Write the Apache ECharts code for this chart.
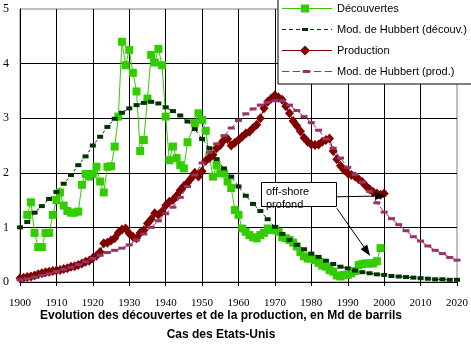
<!DOCTYPE html>
<html>
<head>
<meta charset="utf-8">
<script src="https://cdn.jsdelivr.net/npm/echarts@6/dist/echarts.min.js"></script>
<style>
html, body { margin: 0; padding: 0; background: #fff; }
#chart { width: 471px; height: 350px; }
</style>
</head>
<body>
<div id="chart"></div>
<script>
// US oil: yearly discoveries and production (billion barrels), with Hubbert models

const discoveryYears = [1902,1903,1904,1905,1906,1907,1908,1909,1910,1911,1912,1913,1914,1915,1916,1917,1918,1919,1920,
  1921,1922,1923,1924,1925,1926,1927,1928,1929,1930,1931,1932,1933,1934,1935,1936,1937,1938,1939,1940,
  1941,1942,1943,1944,1945,1946,1948,1949,1950,1951,1952,1953,1954,1955,1956,1957,1958,1959,1960,
  1961,1962,1963,1964,1965,1966,1967,1968,1969,1970,1971,1972,1973,1974,1975,1976,1977,1978,1979,1980,
  1981,1982,1983,1984,1985,1986,1987,1988,1989,1990,1991,1992,1993,1994,1995,1996,1997,1998,1999];
const discoveryValues = [1.23,1.46,0.90,0.64,0.64,0.90,0.90,1.23,1.50,1.64,1.40,1.30,1.27,1.27,1.29,1.78,1.98,1.93,1.98,
  2.11,1.84,1.64,2.11,2.12,2.48,3.03,4.40,3.97,4.25,3.83,3.49,2.40,2.60,3.36,4.16,4.02,4.27,3.97,3.03,
  2.23,2.48,2.27,2.14,2.08,2.56,2.91,3.09,2.97,2.77,2.30,1.93,2.14,1.99,1.99,1.84,1.72,1.32,1.23,
  0.98,0.92,0.86,0.82,0.80,0.86,0.90,0.98,0.95,0.95,0.92,0.82,0.80,0.77,0.72,0.65,0.55,0.47,0.43,0.43,
  0.40,0.35,0.30,0.28,0.22,0.19,0.12,0.10,0.13,0.13,0.16,0.20,0.31,0.33,0.34,0.34,0.34,0.38,0.62];

const modelYears = [1900,1902,1904,1906,1908,1910,1912,1914,1916,1918,1920,1922,1924,1926,1928,1930,1932,1934,1936,1938,
  1940,1942,1944,1946,1948,1950,1952,1954,1956,1958,1960,1962,1964,1966,1968,1970,1972,1974,1976,1978,
  1980,1982,1984,1986,1988,1990,1992,1994,1996,1998,2000,2002,2004,2006,2008,2010,2012,2014,2016,2018,2020];
const discoveryModelValues = [1.00,1.10,1.27,1.39,1.52,1.65,1.80,1.96,2.14,2.30,2.50,2.66,2.84,2.99,3.10,3.18,3.24,3.28,3.30,3.27,
  3.20,3.13,3.05,2.94,2.80,2.62,2.45,2.25,2.08,1.93,1.75,1.58,1.43,1.30,1.15,1.01,0.88,0.77,0.68,0.60,
  0.52,0.46,0.39,0.33,0.28,0.25,0.21,0.18,0.16,0.14,0.13,0.11,0.10,0.09,0.08,0.07,0.06,0.05,0.05,0.04,0.04];
const productionModelValues = [0.04,0.06,0.09,0.12,0.15,0.19,0.23,0.27,0.32,0.37,0.43,0.49,0.54,0.58,0.62,0.68,0.77,0.88,1.00,1.12,
  1.25,1.37,1.55,1.75,1.96,2.18,2.38,2.53,2.68,2.82,2.96,3.08,3.17,3.24,3.29,3.32,3.32,3.24,3.14,3.03,
  2.92,2.78,2.62,2.45,2.27,2.10,1.97,1.83,1.66,1.45,1.28,1.16,1.05,0.94,0.83,0.75,0.66,0.58,0.52,0.45,0.40];

const productionYears = [1900,1901,1902,1903,1904,1905,1906,1907,1908,1909,1910,1911,1912,1913,1914,1915,1916,1917,1918,1919,
  1920,1921,1922,1923,1924,1925,1926,1927,1928,1929,1930,1931,1932,1933,1934,1935,1936,1937,1938,1939,
  1940,1941,1942,1943,1944,1945,1946,1947,1948,1949,1950,1951,1952,1953,1954,1955,1956,1957,1958,1959,
  1960,1961,1962,1963,1964,1965,1966,1967,1968,1969,1970,1971,1972,1973,1974,1975,1976,1977,1978,1979,
  1980,1981,1982,1983,1984,1985,1986,1987,1988,1989,1990,1991,1992,1993,1994,1995,1996,1997,1998,1999,2000];
const productionValues = [0.07,0.08,0.09,0.10,0.12,0.14,0.16,0.18,0.19,0.20,0.21,0.22,0.24,0.25,0.28,0.29,0.31,0.34,0.37,0.39,
  0.44,0.48,0.55,0.71,0.72,0.76,0.80,0.90,0.96,0.98,0.89,0.83,0.80,0.90,0.95,1.07,1.15,1.26,1.23,1.29,
  1.40,1.47,1.50,1.58,1.68,1.76,1.82,1.90,2.00,1.93,2.03,2.22,2.27,2.33,2.45,2.51,2.60,2.62,2.50,2.55,
  2.60,2.66,2.72,2.75,2.82,2.88,3.00,3.18,3.30,3.36,3.42,3.38,3.34,3.22,3.09,2.95,2.86,2.76,2.64,2.57,
  2.52,2.51,2.52,2.57,2.60,2.63,2.40,2.25,2.13,2.05,1.99,1.96,1.93,1.88,1.83,1.76,1.70,1.65,1.62,1.60,1.62];

const seriesNames = ['Découvertes', 'Mod. de Hubbert (découv.)', 'Production', 'Mod. de Hubbert (prod.)'];
const xTicks = { min: 1900, max: 2020, step: 10 };
const yTicks = { min: 0, max: 5, step: 1 };
const titleLines = ['Evolution des découvertes et de la production, en Md de barrils', 'Cas des Etats-Unis'];
const noteText = ['off-shore', 'profond'];

const zip = (xs, ys) => xs.map((x, i) => [x, ys[i]]);

// Legend glyphs: a 50px-wide strip with the line pattern and the series marker at 23px
const ICON_W = 50;
function legendIcon(dash, gap, markerPath, midY) {
  let d = '';
  const y0 = midY - 0.5;
  if (!gap) {
    d += `M0,${y0}H${ICON_W}V${y0 + 1}H0Z`;
  } else {
    for (let x = 0; x < ICON_W; x += dash + gap) {
      const len = Math.min(dash, ICON_W - x);
      d += `M${x},${y0}h${len}v1h${-len}Z`;
    }
  }
  return 'path://' + d + markerPath;
}
const iconDiscovery = legendIcon(0, 0, 'M19,0H27V8H19Z', 4);
const iconDiscModel = legendIcon(4, 3, 'M20,0H26V3H20Z', 1.5);
const iconProduction = legendIcon(0, 0, 'M23,0L28,5L23,10L18,5Z', 5);
const iconProdModel = legendIcon(7, 3, 'M19.5,0H26.5V3H19.5Z', 1.5);

const SANS = '"Liberation Sans", Arial, sans-serif';
const SERIF = '"Liberation Serif", "Times New Roman", serif';

const chart = echarts.init(document.getElementById('chart'), null, { renderer: 'canvas' });

const option = {
  animation: false,
  backgroundColor: '#fff',
  grid: {
    left: 20, right: 14, top: 9, bottom: 68,
    show: true, borderColor: '#808080', borderWidth: 1, backgroundColor: 'transparent'
  },
  legend: {
    orient: 'vertical',
    left: 278, top: -3,
    padding: [6, 20, 7, 4],
    itemWidth: ICON_W, itemHeight: 14, itemGap: 10,
    backgroundColor: '#fff', borderColor: '#000', borderWidth: 1, borderRadius: 0,
    selectedMode: false,
    itemStyle: { borderWidth: 0 },
    textStyle: { fontFamily: SANS, fontSize: 11, color: '#000' },
    data: [
      { name: seriesNames[0], icon: iconDiscovery },
      { name: seriesNames[1], icon: iconDiscModel },
      { name: seriesNames[2], icon: iconProduction },
      { name: seriesNames[3], icon: iconProdModel }
    ]
  },
  xAxis: {
    type: 'value', min: xTicks.min, max: xTicks.max, interval: xTicks.step,
    axisLine: { show: true, onZero: false, lineStyle: { color: '#000', width: 1 } },
    axisTick: { show: true, length: 4, lineStyle: { color: '#000' } },
    axisLabel: { color: '#000', fontFamily: SERIF, fontSize: 11, margin: 16, formatter: v => String(v) },
    splitLine: { show: true, showMinLine: false, showMaxLine: false, lineStyle: { color: '#000', width: 1 } }
  },
  yAxis: {
    type: 'value', min: yTicks.min, max: yTicks.max, interval: yTicks.step,
    axisLine: { show: true, lineStyle: { color: '#000', width: 1 } },
    axisTick: { show: false },
    axisLabel: { color: '#000', fontFamily: SERIF, fontSize: 12, margin: 11 },
    splitLine: { show: true, showMinLine: false, showMaxLine: false, lineStyle: { color: '#000', width: 1 } }
  },
  series: [
    {
      name: seriesNames[0], type: 'line', data: zip(discoveryYears, discoveryValues),
      symbol: 'rect', symbolSize: 8,
      itemStyle: { color: '#33CC00' },
      lineStyle: { color: '#33CC00', width: 1 }
    },
    {
      name: seriesNames[1], type: 'line', data: zip(modelYears, discoveryModelValues),
      symbol: 'rect', symbolSize: [6, 4],
      itemStyle: { color: '#003300' },
      lineStyle: { color: '#003300', width: 1, type: [3, 3] }
    },
    {
      name: seriesNames[2], type: 'line', data: zip(productionYears, productionValues),
      symbol: 'diamond', symbolSize: [9, 10],
      itemStyle: { color: '#800000' },
      lineStyle: { color: '#800000', width: 1 },
      markLine: {
        silent: true,
        symbol: ['none', 'triangle'],
        symbolSize: [8, 11],
        label: { show: false },
        lineStyle: { color: '#000', width: 1, type: 'solid' },
        emphasis: { disabled: true },
        data: [
          [{ coord: [1986.8, 1.56] }, { coord: [1999.0, 1.575] }],
          [{ coord: [1987.0, 1.35] }, { coord: [1995.3, 0.56] }]
        ]
      }
    },
    {
      name: seriesNames[3], type: 'line', data: zip(modelYears, productionModelValues),
      symbol: 'rect', symbolSize: [7, 3],
      itemStyle: { color: '#993366' },
      lineStyle: { color: '#993366', width: 1, type: [6, 3] }
    }
  ]
};

chart.setOption(option);

// Annotation box placed in data space, converted to pixels
const boxTL = chart.convertToPixel({ gridIndex: 0 }, [1966.2, 1.83]);
const boxBR = chart.convertToPixel({ gridIndex: 0 }, [1986.8, 1.39]);

chart.setOption({
  graphic: [
    {
      type: 'rect', z: 100,
      shape: { x: Math.round(boxTL[0]) + 0.5, y: Math.round(boxTL[1]) + 0.5,
               width: Math.round(boxBR[0] - boxTL[0]), height: Math.round(boxBR[1] - boxTL[1]) },
      style: { fill: '#fff', stroke: '#000', lineWidth: 1 }
    },
    {
      type: 'text', z: 101,
      x: Math.round(boxTL[0]) + 5, y: Math.round(boxTL[1]) + 3,
      style: { text: noteText.join('\n'), font: '11px ' + SANS, fill: '#000', lineHeight: 13.5 }
    },
    {
      type: 'text', x: 221, y: 316,
      style: { text: titleLines[0], align: 'center', verticalAlign: 'middle', font: 'bold 12px ' + SANS, fill: '#000' }
    },
    {
      type: 'text', x: 221, y: 335,
      style: { text: titleLines[1], align: 'center', verticalAlign: 'middle', font: 'bold 12px ' + SANS, fill: '#000' }
    }
  ]
});
</script>
</body>
</html>
